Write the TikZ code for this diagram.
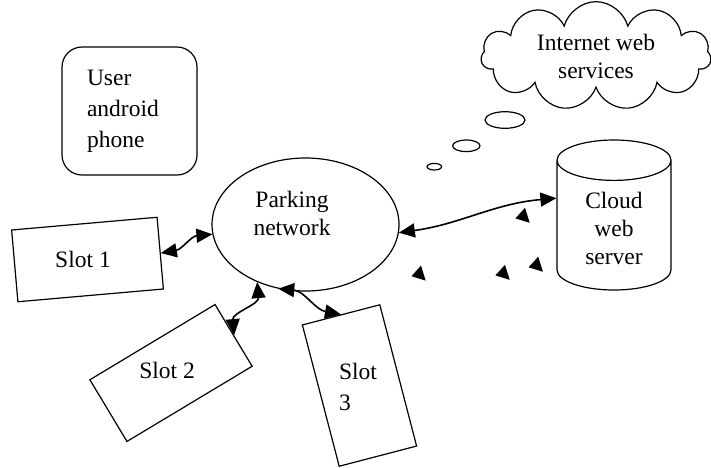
\documentclass[tikz,border=0pt]{standalone}
\usepackage{fontspec}
\setmainfont{Liberation Serif}
\usetikzlibrary{shapes,arrows.meta,calc}

\begin{document}
\begin{tikzpicture}[x=1pt, y=-1pt, line width=1.2pt,
    every node/.style={font=\fontsize{23.5}{28}\selectfont},
    slotbox/.style={draw, minimum width=146pt, minimum height=72pt, inner sep=0pt},
    link/.style={line width=1.6pt, {Triangle[length=16pt,width=14pt]}-{Triangle[length=16pt,width=14pt]}}]
    \useasboundingbox (0,0) rectangle (711,467);

    % User phone
    \node[draw, rounded corners=20pt, minimum width=135pt, minimum height=128pt, text width=85pt, inner xsep=25pt, align=left, font=\fontsize{23.5}{31}\selectfont] (U) at (129.5,111) {User\\android\\phone};

    % Parking network
    \node[draw, ellipse, minimum width=187pt, minimum height=133pt] (P) at (305.5,224.5) {};
    \node[align=center] (Pt) at (292,213) {Parking\\network};

    % Slots
    \node[slotbox, rotate=5] (S1) at (87.5,259.5) {};
    \node (S1t) at (83,259) {Slot 1};
    \node[slotbox, rotate=31] (S2) at (171,373) {};
    \node (S2t) at (167,370) {Slot 2};
    \node[slotbox, minimum width=80pt, minimum height=146pt, rotate=14.6] (S3) at (359.5,385.5) {};
    \node[align=left, font=\fontsize{23.5}{31}\selectfont] (S3t) at (358,387) {Slot\\3};

    % Cloud web server
    \node[draw, cylinder, shape border rotate=90, aspect=0.63, minimum width=114pt, minimum height=150pt, align=center, anchor=shape center] (W) at (614,215) {Cloud\\web\\server};

    % Internet web services
    \node[draw, cloud, cloud puffs=11, aspect=2.4, minimum width=230pt, minimum height=97pt, align=center] (C) at (596,56) {Internet web\\services};

    % Thought bubbles
    \draw (505,120) ellipse [x radius=20, y radius=8.3];
    \draw (466.3,145.8) ellipse [x radius=13.7, y radius=5.8];
    \draw (434.3,166.7) ellipse [x radius=7.3, y radius=3.3];

    % Links
    \draw[link] (S1.east) to[out=10,in=185] (P.186);
    \draw[link] (P.230) to[out=-85,in=95] (S2.east);
    \draw[link] (P.247) to[out=-5,in=170] (S3.north);
    \draw[link] (P.355) to[out=8,in=185] (W.152);

    % Stray arrowheads
    \foreach \p in {(523.7,216.3),(419.7,274.1),(503.7,273.3),(536.9,265.2)}
        \fill \p +(1.3,-8.5) -- +(-8.3,2.1) -- +(6,6.5) -- cycle;

\end{tikzpicture}
\end{document}
